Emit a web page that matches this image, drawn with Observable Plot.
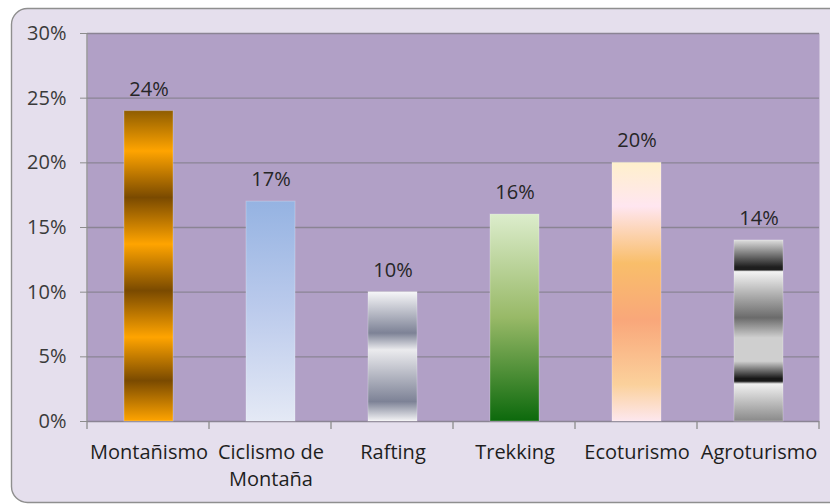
<!DOCTYPE html>
<html><head><meta charset="utf-8">
<script src="https://cdn.jsdelivr.net/npm/d3@7"></script>
<script src="https://cdn.jsdelivr.net/npm/@observablehq/plot@0.6"></script>
<style>body{margin:0;background:#fff;} #chart svg{display:block;}</style>
</head><body><div id="chart"></div>
<script>
const categories = ["Montañismo", "Ciclismo de\nMontaña", "Rafting", "Trekking", "Ecoturismo", "Agroturismo"];
const values = [0.24, 0.17, 0.10, 0.16, 0.20, 0.14];
const yTicks = [0, 0.05, 0.10, 0.15, 0.20, 0.25, 0.30];

// style: vertical gradient stops for each bar
const gradientStops = [
  [[0,"#8f5d00"],[0.13,"#ffa400"],[0.28,"#7a4a00"],[0.43,"#ffa400"],[0.58,"#7a4a00"],[0.73,"#ffa400"],[0.87,"#7a4a00"],[1,"#ffa400"]],
  [[0,"#95b3e2"],[0.5,"#bccbec"],[1,"#e4e9f5"]],
  [[0,"#f6f6f8"],[0.32,"#7d8296"],[0.45,"#ebebee"],[0.85,"#7d8296"],[1,"#f3f3f5"]],
  [[0,"#dcedcc"],[0.5,"#98b967"],[1,"#0c690c"]],
  [[0,"#fff0cc"],[0.17,"#ffe6f0"],[0.39,"#f9be6a"],[0.61,"#f9a77a"],[0.86,"#fbd19c"],[1,"#fde7ee"]],
  [[0,"#dedede"],[0.15,"#1e1e1e"],[0.165,"#1e1e1e"],[0.175,"#f4f4f4"],[0.43,"#6b6b6b"],[0.54,"#cfcfcf"],[0.67,"#cfcfcf"],[0.765,"#181818"],[0.78,"#181818"],[0.795,"#f0f0f0"],[1,"#8a8a8a"]]
];

const data = categories.map((c, i) => ({cat: c, val: values[i], grad: `url(#grad${i})`}));
const pct = d => Math.round(d * 100) + "%";

const plot = Plot.plot({
  width: 830,
  height: 504,
  marginLeft: 87,
  marginRight: 11,
  marginTop: 33,
  marginBottom: 83,
  style: {background: "transparent", fontFamily: "'Open Sans', sans-serif", fontSize: "20px", overflow: "visible"},
  x: {domain: categories, paddingInner: 0.6, paddingOuter: 0.3, label: null},
  y: {domain: [0, 0.3], label: null},
  color: {type: "identity"},
  marks: [
    Plot.frame({fill: "#b1a0c6", stroke: null}),
    Plot.ruleY(yTicks, {stroke: "#8b8494", strokeWidth: 1.3}),
    Plot.barY(data, {x: "cat", y: "val", fill: "grad", stroke: "#ffffff", strokeOpacity: 0.25}),
    Plot.text(data, {x: "cat", y: "val", text: d => pct(d.val), dy: -22, fontSize: 20, fill: "#262626"}),
    Plot.axisY(yTicks, {tickFormat: pct, tickSize: 7, tickPadding: 14, fontSize: 20, stroke: "#8c8c8c", fill: "#3a3a3a", label: null}),
    Plot.axisX({tickSize: 0, tickPadding: 19, fontSize: 20, lineHeight: 1.33, fill: "#1e1e1e", label: null})
  ]
});

const svg = d3.select(plot);
// gradients
const defs = svg.insert("defs", ":first-child");
gradientStops.forEach((stops, i) => {
  const g = defs.append("linearGradient").attr("id", `grad${i}`).attr("x1", 0).attr("y1", 0).attr("x2", 0).attr("y2", 1);
  stops.forEach(([o, c]) => g.append("stop").attr("offset", o).attr("stop-color", c));
});
// outer rounded chart box
svg.insert("rect", "defs + *")
  .attr("x", 11.5).attr("y", 8.5).attr("width", 840).attr("height", 494).attr("rx", 16)
  .attr("fill", "#e5dfed").attr("stroke", "#8f8f8f").attr("stroke-width", 1.4);

const xs = plot.scale("x"), ys = plot.scale("y");
const x0 = xs.range[0];
const yb = ys.apply(0), yt = ys.apply(0.3);
// left axis line
svg.append("line").attr("x1", x0).attr("x2", x0).attr("y1", yt).attr("y2", yb).attr("stroke", "#8c8c8c").attr("stroke-width", 1.3);
// category boundary ticks
d3.range(categories.length + 1).forEach(i => {
  const x = x0 + i * xs.step;
  svg.append("line").attr("x1", x).attr("x2", x).attr("y1", yb).attr("y2", yb + 8).attr("stroke", "#8c8c8c").attr("stroke-width", 1.3);
});
document.getElementById("chart").appendChild(plot);
</script>
</body></html>
